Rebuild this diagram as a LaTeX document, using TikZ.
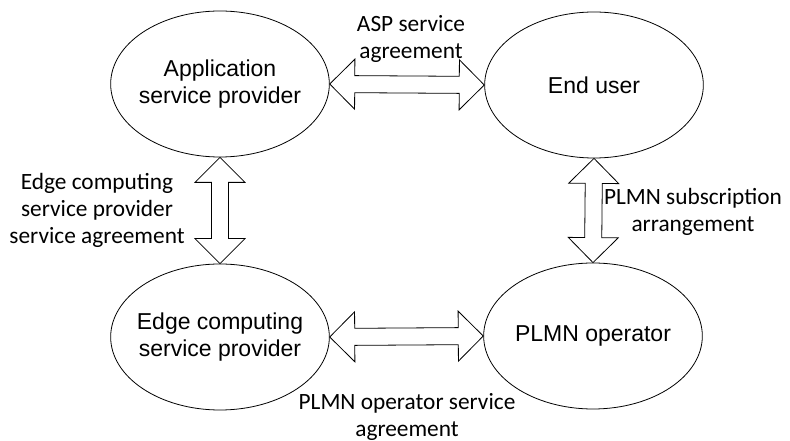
\documentclass[tikz,border=0pt]{standalone}
\usepackage{fontspec}
\setmainfont{Liberation Sans}
\newfontfamily\labelfont{Carlito}
\usepackage{tikz}
\usetikzlibrary{shapes.geometric,calc}

\newcommand{\twoway}[2]{%
  \draw[blockarrow] (#1)
    -- ($(#1)!18.75pt!(#2)!18.75pt!90:(#2)$)
    -- ($(#1)!18.75pt!(#2)!6.4pt!90:(#2)$)
    -- ($(#2)!18.75pt!(#1)!6.4pt!-90:(#1)$)
    -- ($(#2)!18.75pt!(#1)!18.75pt!-90:(#1)$)
    -- (#2)
    -- ($(#2)!18.75pt!(#1)!18.75pt!90:(#1)$)
    -- ($(#2)!18.75pt!(#1)!6.4pt!90:(#1)$)
    -- ($(#1)!18.75pt!(#2)!6.4pt!-90:(#2)$)
    -- ($(#1)!18.75pt!(#2)!18.75pt!-90:(#2)$)
    -- cycle;}

\begin{document}
\begin{tikzpicture}[x=0.75pt, y=-0.75pt,
  party/.style={draw, ellipse, line width=0.6pt, minimum width=164pt, minimum height=109.5pt,
    inner xsep=-5pt, inner ysep=0pt, align=center, font=\fontsize{17.25}{20.25}\selectfont},
  deal/.style={align=center, inner sep=0pt, font=\labelfont\fontsize{17.5}{20.25}\selectfont},
  blockarrow/.style={line width=0.6pt, line join=miter}]
  \useasboundingbox (0,0) rectangle (790,441);

  \node[party] (asp) at (220,84) {Application\\service provider};
  \node[party] (user) at (594,85) {End user};
  \node[party] (ecsp) at (220,337) {Edge computing\\service provider};
  \node[party] (plmn) at (593,336) {PLMN operator};

  \twoway{asp.east}{user.west}
  \twoway{asp.south}{ecsp.north}
  \twoway{user.south}{plmn.north}
  \twoway{ecsp.east}{plmn.west}

  \node[deal] (aspdeal) at (411,39) {ASP service\\agreement};
  \node[deal] (ecspdeal) at (97,210) {Edge computing\\service provider\\service agreement};
  \node[deal] (subdeal) at (693,212) {PLMN subscription\\arrangement};
  \node[deal] (opdeal) at (407,417) {PLMN operator service\\agreement};
\end{tikzpicture}
\end{document}
